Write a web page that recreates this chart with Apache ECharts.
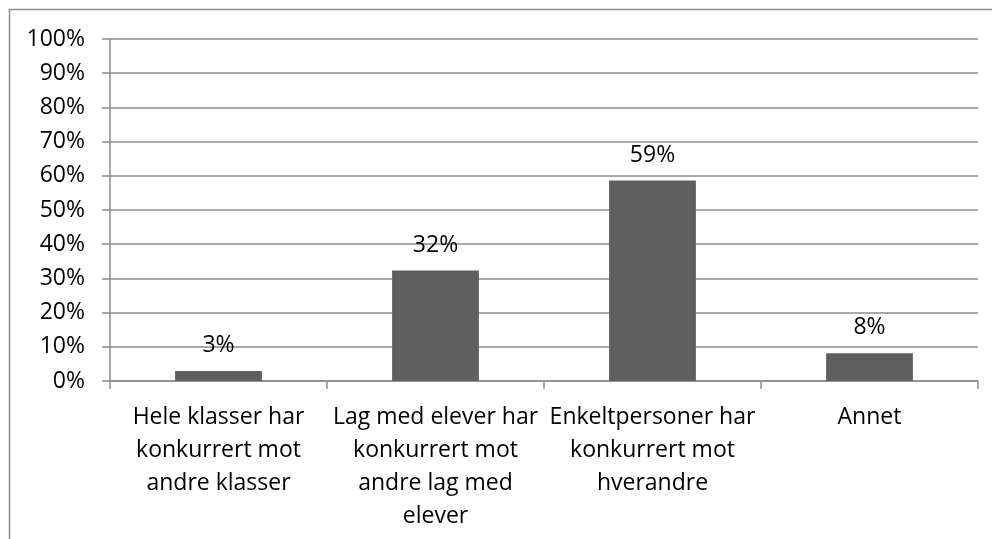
<!DOCTYPE html>
<html>
<head>
<meta charset="utf-8">
<script src="https://cdn.jsdelivr.net/npm/echarts@6/dist/echarts.min.js"></script>
<style>
html,body{margin:0;padding:0;background:#fff;}
#chart{width:992px;height:539px;}
</style>
</head>
<body>
<div id="chart"></div>
<script>
// kategorier og verdier (prosent)
var categories = [
    'Hele klasser har\nkonkurrert mot\nandre klasser',
    'Lag med elever har\nkonkurrert mot\nandre lag med\nelever',
    'Enkeltpersoner har\nkonkurrert mot\nhverandre',
    'Annet'
];
var values = [2.9, 32.3, 58.6, 8.1];
var labels = ['3%', '32%', '59%', '8%'];

var FONT = '"Open Sans", sans-serif';
var LINE = '#8c8c8c';
var chart = echarts.init(document.getElementById('chart'));
var option = {
    animation: false,
    textStyle: { fontFamily: FONT },
    graphic: [{
        type: 'rect',
        shape: { x: 9.5, y: 9.5, width: 1200, height: 800 },
        style: { fill: null, stroke: LINE, lineWidth: 1.5 },
        silent: true
    }],
    grid: {
        left: 110,
        right: 14,
        top: 39,
        bottom: 158
    },
    xAxis: {
        type: 'category',
        data: categories,
        axisLine: { lineStyle: { color: LINE, width: 1.5 } },
        axisTick: { show: true, length: 8, lineStyle: { color: LINE, width: 1.5 } },
        axisLabel: {
            interval: 0,
            margin: 20,
            color: '#000',
            fontSize: 23,
            lineHeight: 33,
            fontFamily: FONT
        }
    },
    yAxis: {
        type: 'value',
        min: 0,
        max: 100,
        interval: 10,
        axisLine: { show: true, lineStyle: { color: LINE, width: 1.5 } },
        axisTick: { show: true, length: 8, lineStyle: { color: LINE, width: 1.5 } },
        splitLine: { lineStyle: { color: LINE, width: 1.5 } },
        axisLabel: {
            formatter: '{value}%',
            margin: 25,
            color: '#000',
            fontSize: 23,
            fontFamily: FONT
        }
    },
    series: [{
        type: 'bar',
        data: values,
        barWidth: '40%',
        itemStyle: { color: '#5f5f5f' },
        label: {
            show: true,
            position: 'top',
            distance: 14,
            color: '#000',
            fontSize: 23,
            fontFamily: FONT,
            formatter: function (p) { return labels[p.dataIndex]; }
        }
    }]
};
chart.setOption(option);
</script>
</body>
</html>
